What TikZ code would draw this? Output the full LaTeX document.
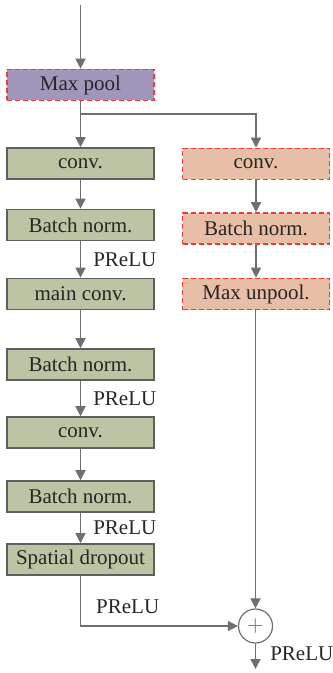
\documentclass[tikz,border=0pt]{standalone}
\usepackage{fontspec}
\setmainfont{Liberation Serif}
\usetikzlibrary{arrows.meta}

\definecolor{encgreen}{RGB}{187,197,163}
\definecolor{poolpurple}{RGB}{161,151,186}
\definecolor{decorange}{RGB}{232,191,166}
\definecolor{dashred}{RGB}{238,58,62}
\definecolor{edgegray}{RGB}{95,95,98}
\definecolor{linegray}{RGB}{110,110,115}

\tikzset{
  layer/.style={draw=edgegray, line width=0.8pt, fill=encgreen, minimum width=73.5pt, minimum height=15.5pt, inner sep=0pt, text=black!85},
  newlayer/.style={layer, draw=dashred, dash pattern=on 2.5pt off 1.5pt},
  flow/.style={-{Triangle[length=5pt,width=5pt]}, draw=linegray, line width=0.75pt},
  act/.style={text=black!85, inner sep=0pt}
}

\begin{document}
\begin{tikzpicture}[x=0.5pt,y=-0.5pt,font=\fontsize{10.5}{12}\selectfont]
   \useasboundingbox (0,0) rectangle (332,673);

   % main branch
   \coordinate (in) at (80.5,5);
   \node[newlayer, fill=poolpurple] (pool) at (80.5,85) {Max pool};
   \node[layer] (conva) at (80.5,163.5) {conv.};
   \node[layer] (bna) at (80.5,225) {Batch norm.};
   \node[layer] (mconv) at (80.5,294) {main conv.};
   \node[layer] (bnb) at (80.5,364.5) {Batch norm.};
   \node[layer] (convb) at (80.5,432.5) {conv.};
   \node[layer] (bnc) at (80.5,496.5) {Batch norm.};
   \node[layer] (drop) at (80.5,559.5) {Spatial dropout};

   % side branch
   \node[newlayer, fill=decorange] (rconv) at (256,164) {conv.};
   \node[newlayer, fill=decorange] (rbn) at (256,228.5) {Batch norm.};
   \node[newlayer, fill=decorange] (unpool) at (256,294) {Max unpool.};

   % merge
   \node[draw=linegray, line width=0.6pt, circle, minimum size=17pt, inner sep=0pt, text=linegray] (sum) at (255.5,626) {$+$};
   \coordinate (out) at (255.5,669);
   \coordinate (split) at (80.5,114);

   \draw[flow] (in) -- (pool);
   \draw[flow] (pool) -- (conva);
   \draw[flow] (split) -| (rconv);
   \draw[flow] (conva) -- (bna);
   \draw[flow] (bna) -- node[act, right=6pt] {PReLU} (mconv);
   \draw[flow] (mconv) -- (bnb);
   \draw[flow] (bnb) -- node[act, right=6pt] {PReLU} (convb);
   \draw[flow] (convb) -- (bnc);
   \draw[flow] (bnc) -- node[act, right=6pt] {PReLU} (drop);
   \draw[flow] (drop) |- node[act, pos=0.65, above=6pt] {PReLU} (sum);
   \draw[flow] (rconv) -- (rbn);
   \draw[flow] (rbn) -- (unpool);
   \draw[flow] (unpool.south -| sum) -- (sum);
   \draw[flow] (sum) -- node[act, right=7pt, pos=0.4] {PReLU} (out);
\end{tikzpicture}
\end{document}
